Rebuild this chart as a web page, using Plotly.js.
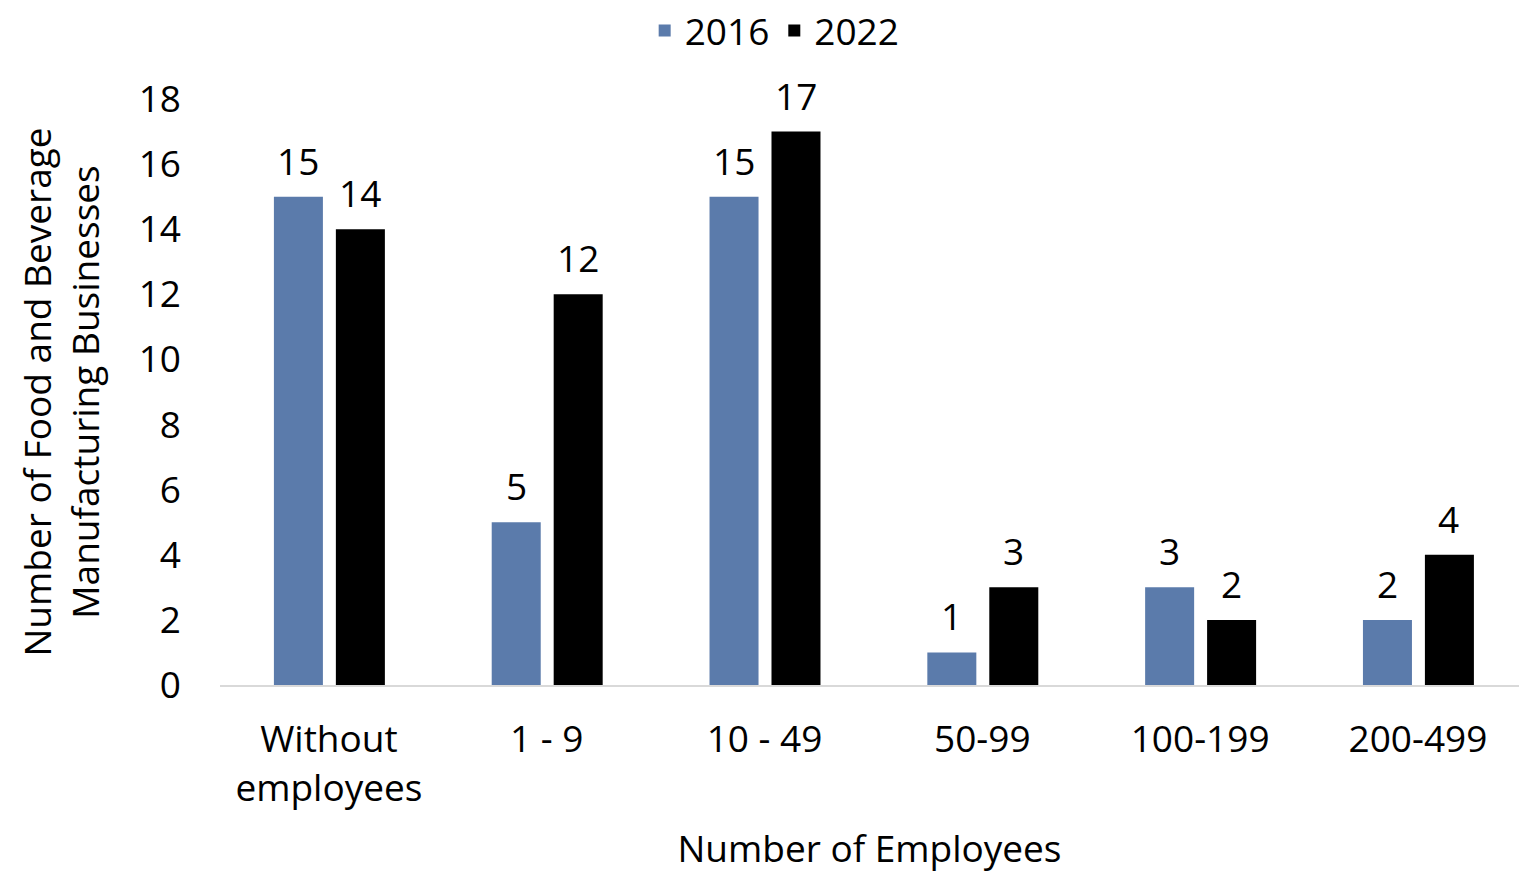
<!DOCTYPE html>
<html>
<head>
<meta charset="utf-8">
<script src="https://cdn.plot.ly/plotly-3.0.1.min.js"></script>
<style>html,body{margin:0;padding:0;background:#fff;}#chart{width:1519px;height:873px;}</style>
</head>
<body>
<div id="chart"></div>
<script>
const categories = ["Without<br>employees", "1 - 9", "10 - 49", "50-99", "100-199", "200-499"];
const values2016 = [15, 5, 15, 1, 3, 2];
const values2022 = [14, 12, 17, 3, 2, 4];
const seriesNames = ["2016", "2022"];
const yTicks = [0, 2, 4, 6, 8, 10, 12, 14, 16, 18];

const FONT = "'Open Sans', sans-serif";
const FS = 37;

const traces = [
  {type:'bar', name: seriesNames[0], x: categories, y: values2016,
   marker:{color:'#5B7BAB'}, width:0.225, offset:-0.2525, hoverinfo:'x+y'},
  {type:'bar', name: seriesNames[1], x: categories, y: values2022,
   marker:{color:'#000000'}, width:0.225, offset:0.032, hoverinfo:'x+y'}
];

const annotations = [];
categories.forEach((c, i) => {
  annotations.push({x:c, y:values2016[i], xref:'x', yref:'y', text:String(values2016[i]), showarrow:false,
    xshift:-30.5, yanchor:'bottom', yshift:9, font:{family:FONT, size:FS, color:'#000'}});
  annotations.push({x:c, y:values2022[i], xref:'x', yref:'y', text:String(values2022[i]), showarrow:false,
    xshift:31, yanchor:'bottom', yshift:9, font:{family:FONT, size:FS, color:'#000'}});
});

const layout = {
  width:1519, height:873,
  margin:{l:220, r:0, t:99, b:188},
  paper_bgcolor:'#fff', plot_bgcolor:'#fff',
  font:{family:FONT, size:FS, color:'#000'},
  barmode:'overlay',
  showlegend:true,
  annotations: annotations,
  legend:{orientation:'h', x:0.427, xanchor:'center', y:1.0, yref:'container', yanchor:'top',
          font:{family:FONT, size:FS, color:'#000'}, itemwidth:30, tracegroupgap:0},
  xaxis:{type:'category', range:[-0.5, 5.464], showline:true, linecolor:'#D9D9D9', linewidth:2,
         showgrid:false, zeroline:false, ticks:'', tickfont:{family:FONT, size:FS, color:'#000'},
         ticklabelstandoff:21,
         title:{text:'Number of Employees', font:{family:FONT, size:FS, color:'#000'}, standoff:28}},
  yaxis:{range:[0,18], tickvals:yTicks, ticktext:yTicks.map(String), showline:false, showgrid:false,
         zeroline:false, ticks:'', ticklabelstandoff:38,
         tickfont:{family:FONT, size:FS, color:'#000'},
         title:{text:'Number of Food and Beverage<br>Manufacturing Businesses', font:{family:FONT, size:FS, color:'#000'}, standoff:27}}
};

Plotly.newPlot('chart', traces, layout, {displayModeBar:false, responsive:false});
</script>
</body>
</html>
